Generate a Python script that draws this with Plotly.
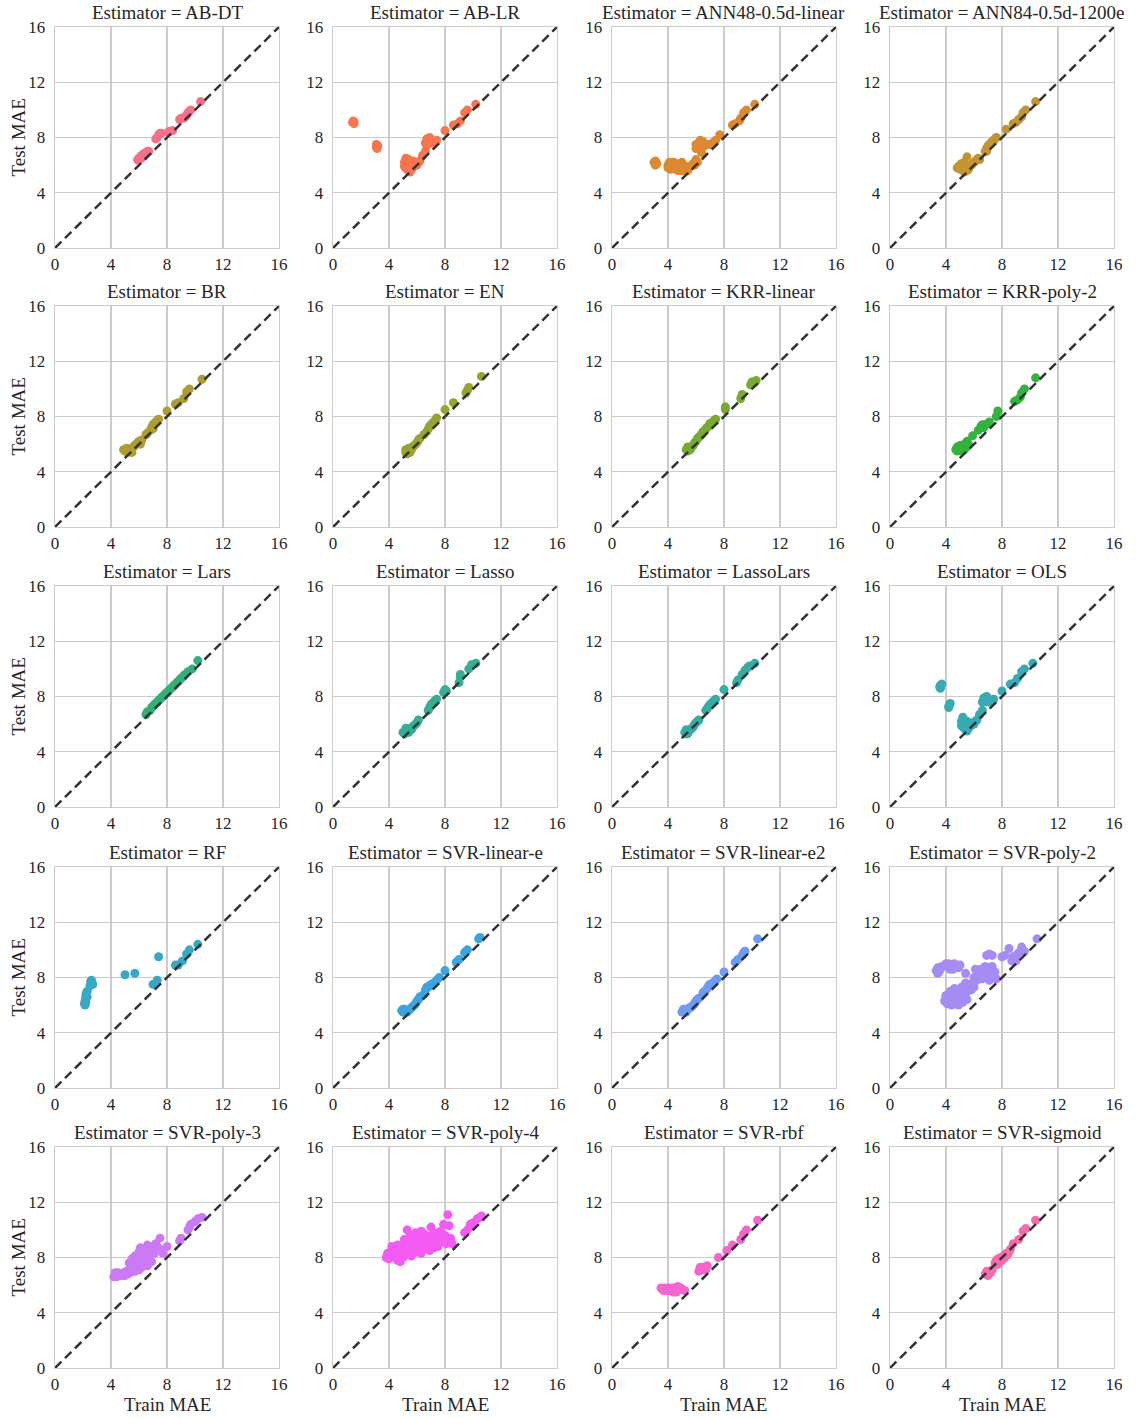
import math
import plotly.graph_objects as go

# ---------------- data: (Train MAE, Test MAE) per estimator ----------------
ESTIMATORS = ["AB-DT", "AB-LR", "ANN48-0.5d-linear", "ANN84-0.5d-1200e",
              "BR", "EN", "KRR-linear", "KRR-poly-2",
              "Lars", "Lasso", "LassoLars", "OLS",
              "RF", "SVR-linear-e", "SVR-linear-e2", "SVR-poly-2",
              "SVR-poly-3", "SVR-poly-4", "SVR-rbf", "SVR-sigmoid"]

AB_DT = [(5.9,6.4),(6.0,6.5),(6.1,6.6),(6.2,6.7),(6.3,6.8),(6.4,6.85),(6.5,6.9),(6.6,7.0),(6.7,7.0),
         (5.95,6.35),(6.15,6.5),(6.35,6.65),(6.55,6.85),(7.2,7.9),(7.3,8.0),(7.4,8.2),(7.5,8.3),(7.6,8.3),
         (8.1,8.4),(8.2,8.45),(8.4,8.5),(8.9,9.3),(9.0,9.4),(9.2,9.4),(9.3,9.5),(9.4,9.6),(9.5,9.8),
         (9.6,9.9),(9.7,10.0),(10.4,10.6)]
AB_LR = [(1.4,9.1),(1.5,9.0),(1.45,9.2),(1.5,9.15),(3.1,7.3),(3.2,7.4),(3.1,7.5),(3.15,7.2),
         (5.1,5.9),(5.1,6.2),(5.2,6.5),(5.2,6.0),(5.3,5.7),(5.3,6.3),(5.4,5.6),(5.4,6.0),(5.5,5.5),
         (5.5,6.2),(5.6,5.7),(5.6,6.0),(5.7,5.8),(5.8,6.0),(5.9,6.1),(6.0,6.0),(6.1,6.2),(6.2,6.3),
         (5.2,5.8),(5.35,6.45),(5.45,5.8),(5.7,6.3),(6.4,6.7),(6.6,7.0),(6.6,7.6),(6.7,7.9),(6.8,7.7),
         (6.9,8.0),(7.0,7.6),(6.7,7.4),(7.2,7.6),(7.4,7.8),(8.0,8.5),(8.6,8.9),(8.9,9.0),(9.1,9.2),
         (9.4,9.8),(9.6,10.0),(10.2,10.4)]
ANN48 = [(3.0,6.2),(3.1,6.0),(3.2,6.1),(3.1,6.3),(4.0,6.0),(4.0,5.8),(4.1,6.2),(4.2,5.7),(4.3,6.0),
         (4.4,6.2),(4.5,5.8),(4.6,6.1),(4.7,5.6),(4.8,6.0),(4.9,5.7),(5.0,6.1),(5.1,5.8),(5.2,5.6),
         (5.3,5.9),(5.4,5.6),(5.5,5.8),(5.6,5.9),(5.7,6.0),(5.8,6.1),(4.2,5.9),(4.6,5.7),(5.0,5.6),
         (5.0,6.2),(4.5,6.1),(6.0,6.4),(5.9,6.0),(6.1,6.2),(6.0,7.2),(6.0,7.5),(6.1,7.3),(6.2,7.6),
         (6.3,7.8),(6.4,7.5),(6.5,7.7),(6.3,7.1),(6.4,6.9),(6.6,7.4),(6.8,7.5),(7.0,7.5),(7.2,7.6),
         (7.4,7.8),(7.7,8.2),(8.6,8.9),(8.8,9.0),(9.1,9.2),(9.2,9.4),(9.4,9.8),(9.6,10.0),(10.2,10.4)]
ANN84 = [(4.8,5.8),(4.9,5.9),(5.0,5.7),(5.0,6.0),(5.1,6.1),(5.2,5.9),(5.3,6.2),(5.4,5.8),(5.5,5.6),
         (5.6,5.7),(5.5,6.6),(5.7,5.9),(5.8,6.0),(5.9,6.1),(6.0,6.2),(6.1,6.3),(6.2,6.4),(6.3,6.5),
         (6.4,6.4),(5.3,5.5),(6.8,7.0),(6.9,7.2),(7.0,7.4),(7.1,7.5),(7.2,7.6),(7.3,7.7),(7.4,7.8),
         (7.5,7.9),(7.6,8.0),(6.9,7.0),(8.3,8.6),(8.8,9.0),(9.0,9.1),(9.2,9.3),(9.4,9.5),(9.5,9.8),
         (9.7,10.0),(10.4,10.6)]
BR = [(4.9,5.6),(5.0,5.5),(5.1,5.7),(5.2,5.4),(5.3,5.6),(5.4,5.5),(5.5,5.7),(5.6,5.8),(5.7,5.9),
      (5.8,6.0),(5.9,6.1),(6.0,6.2),(6.1,6.0),(6.2,6.3),(5.5,5.4),(6.5,6.7),(6.6,6.8),(6.8,7.0),
      (6.9,7.2),(7.0,7.4),(7.1,7.5),(7.2,7.6),(7.3,7.7),(7.4,7.8),(7.0,7.1),(8.0,8.4),(8.6,8.9),
      (8.8,9.0),(9.2,9.3),(9.4,9.8),(9.6,10.0),(10.5,10.7)]
EN = [(5.2,5.4),(5.2,5.6),(5.3,5.3),(5.4,5.5),(5.5,5.4),(5.5,5.7),(5.6,5.6),(5.7,5.8),(5.8,5.9),
      (5.9,6.0),(6.0,6.1),(6.1,6.3),(6.2,6.4),(5.4,5.7),(6.5,6.7),(6.7,6.9),(6.8,7.1),(6.9,7.3),
      (7.0,7.4),(7.1,7.5),(7.2,7.6),(7.3,7.7),(7.4,7.9),(8.0,8.5),(8.6,9.0),(9.5,9.7),(9.6,9.9),
      (9.7,10.1),(10.6,10.9)]
KRR_LINEAR = [(5.3,5.6),(5.4,5.5),(5.4,5.8),(5.5,5.7),(5.6,5.6),(5.7,5.8),(5.8,5.9),(5.9,6.1),
              (6.0,6.2),(6.1,6.4),(6.2,6.5),(6.3,6.6),(6.4,6.7),(6.5,6.9),(6.7,7.1),(6.8,7.2),
              (6.9,7.3),(7.0,7.5),(7.1,7.5),(7.2,7.6),(7.3,7.7),(7.4,7.8),(8.1,8.5),(8.1,8.7),
              (9.2,9.3),(9.3,9.6),(9.9,10.3),(10.0,10.5),(10.2,10.5),(10.3,10.6)]
KRR_POLY2 = [(4.7,5.6),(4.8,5.5),(4.8,5.8),(4.9,5.6),(5.0,5.7),(5.1,5.5),(5.2,5.8),(5.3,5.6),
             (5.3,6.0),(5.4,5.9),(5.5,6.2),(5.5,5.8),(5.6,6.0),(5.0,5.9),(5.9,6.6),(6.3,7.0),
             (6.5,7.3),(6.6,7.4),(6.8,7.4),(7.0,7.5),(7.1,7.6),(6.7,7.2),(7.6,8.0),(7.7,8.4),
             (8.9,9.1),(9.1,9.2),(9.3,9.4),(9.4,9.7),(9.6,10.0),(10.4,10.8)]
LARS = [(6.5,6.7),(6.6,6.9),(6.8,7.0),(6.9,7.2),(7.0,7.3),(7.1,7.4),(7.2,7.5),(7.3,7.6),(7.4,7.7),
        (7.5,7.8),(7.6,7.9),(7.7,8.0),(7.8,8.1),(7.9,8.2),(8.0,8.3),(8.1,8.4),(8.2,8.5),(8.3,8.6),
        (8.4,8.7),(8.5,8.8),(8.6,8.9),(8.7,9.0),(8.8,9.1),(8.9,9.2),(9.0,9.3),(9.1,9.4),(9.2,9.5),
        (9.3,9.6),(9.5,9.8),(9.8,10.0),(10.2,10.6)]
LASSO = [(5.0,5.4),(5.1,5.3),(5.2,5.5),(5.3,5.6),(5.4,5.4),(5.5,5.7),(5.6,5.6),(5.7,5.8),(5.8,5.9),
         (5.9,6.0),(6.0,6.1),(6.1,6.3),(5.2,5.7),(6.8,7.0),(6.9,7.2),(7.0,7.4),(7.1,7.5),(7.2,7.6),
         (7.3,7.7),(7.4,7.8),(7.9,8.3),(8.0,8.5),(8.1,8.4),(9.0,9.0),(9.1,9.4),(9.1,9.6),(9.7,10.0),
         (9.9,10.3),(10.2,10.4)]
LASSOLARS = [(5.2,5.4),(5.3,5.6),(5.4,5.3),(5.5,5.5),(5.6,5.6),(5.7,5.7),(5.8,5.8),(5.9,6.0),
             (6.0,6.1),(6.1,6.2),(6.2,6.3),(5.3,5.3),(6.7,7.0),(6.8,7.1),(6.9,7.3),(7.0,7.4),
             (7.1,7.5),(7.2,7.6),(7.3,7.7),(7.4,7.8),(8.0,8.5),(8.9,9.0),(9.0,9.2),(9.3,9.6),
             (9.5,9.9),(9.7,10.1),(9.8,10.2),(10.2,10.4)]
OLS = [(3.6,8.8),(3.6,8.6),(3.7,8.9),(3.55,8.7),(4.2,7.3),(4.3,7.5),(4.2,7.2),(4.25,7.4),
       (5.1,5.9),(5.1,6.2),(5.2,6.5),(5.2,6.0),(5.3,5.7),(5.3,6.3),(5.4,5.6),(5.4,6.0),(5.5,5.5),
       (5.5,6.2),(5.6,5.7),(5.6,6.0),(5.7,5.8),(5.8,6.0),(5.9,6.1),(6.0,6.0),(6.1,6.2),(6.2,6.3),
       (5.2,5.8),(5.45,5.8),(6.4,6.7),(6.6,7.0),(6.6,7.6),(6.7,7.9),(6.8,7.7),(6.9,8.0),(7.0,7.6),
       (7.2,7.6),(7.4,7.8),(8.0,8.4),(8.6,8.9),(8.9,9.0),(9.1,9.3),(9.4,9.8),(9.6,10.0),(10.2,10.4)]
RF = [(2.1,6.1),(2.15,6.3),(2.2,6.5),(2.2,6.7),(2.25,6.9),(2.3,7.0),(2.2,6.2),(2.3,6.6),(2.15,6.0),
      (2.5,7.4),(2.6,7.6),(2.6,7.8),(2.7,7.5),(2.55,7.7),(5.0,8.2),(5.7,8.3),(7.0,7.5),(7.3,7.8),
      (7.4,9.5),(8.6,8.9),(8.8,8.9),(9.1,9.2),(9.4,9.7),(9.6,10.0),(10.2,10.4)]
SVR_LIN_E = [(4.9,5.6),(5.0,5.5),(5.1,5.7),(5.2,5.6),(5.3,5.5),(5.4,5.6),(5.5,5.7),(5.6,5.8),
             (5.7,5.9),(5.8,6.0),(5.9,6.1),(6.0,6.3),(6.1,6.4),(6.2,6.6),(5.0,5.7),(6.5,6.8),
             (6.6,7.1),(6.7,7.3),(6.8,7.3),(6.9,7.4),(7.0,7.5),(7.1,7.5),(7.2,7.6),(7.4,7.8),
             (7.6,8.0),(8.0,8.5),(8.8,9.1),(9.0,9.3),(9.4,9.8),(9.5,9.9),(9.6,10.0),(10.4,10.8),
             (10.5,10.9)]
SVR_LIN_E2 = [(5.0,5.5),(5.1,5.7),(5.2,5.6),(5.3,5.5),(5.4,5.7),(5.5,5.8),(5.6,5.8),(5.7,5.9),
              (5.8,6.0),(5.9,6.1),(6.0,6.3),(6.1,6.4),(6.2,6.5),(6.5,6.9),(6.6,7.0),(6.8,7.2),
              (6.9,7.4),(7.0,7.5),(7.1,7.5),(7.2,7.6),(7.4,7.8),(7.5,7.9),(8.0,8.4),(8.8,9.1),
              (9.0,9.3),(9.3,9.6),(9.4,9.8),(9.5,9.9),(10.4,10.8)]
SVR_POLY2 = [(3.3,8.5),(3.4,8.7),(3.5,8.4),(3.6,8.6),(3.4,8.3),(3.7,8.8),
             (4.0,9.0),(4.1,8.8),(4.2,9.0),(4.3,8.6),(4.4,8.9),(4.5,8.6),(4.6,9.0),(4.8,8.8),
             (5.0,8.9),(4.9,8.7),
             (3.9,6.3),(4.0,6.5),(4.0,6.7),(4.1,6.1),(4.2,6.4),(4.2,6.8),(4.3,6.2),(4.3,7.0),
             (4.4,6.5),(4.4,6.0),(4.5,6.3),(4.5,6.8),(4.6,6.6),(4.6,7.2),(4.7,6.1),(4.7,6.9),
             (4.8,6.4),(4.8,7.0),(4.9,6.0),(4.9,6.7),(5.0,6.3),(5.0,7.1),(5.1,6.6),(5.1,7.3),
             (5.2,6.2),(5.2,6.9),(5.3,6.5),(5.3,7.4),(5.4,6.8),(5.4,7.6),(5.5,7.0),(5.5,6.4),
             (5.6,7.2),(5.7,7.5),(5.8,7.1),(5.9,7.6),(6.0,7.3),
             (5.4,8.3),(6.0,8.0),(6.1,8.6),(6.2,7.8),(6.3,8.3),(6.4,8.0),(6.5,8.6),(6.6,7.9),
             (6.7,8.4),(6.8,8.8),(6.9,8.1),(7.0,8.6),(7.1,7.8),(7.2,8.3),(7.3,8.8),(7.5,8.4),
             (7.6,7.9),(7.4,8.0),(6.9,9.6),(7.1,9.7),(7.3,9.6),(8.0,9.5),(8.2,9.6),(8.5,10.1),
             (8.7,9.2),(8.8,9.5),(9.0,9.6),(9.2,9.8),(9.4,10.2),(9.6,9.9),(9.0,9.2),(10.5,10.8)]
SVR_POLY3 = [(4.2,6.6),(4.3,6.9),(4.4,6.6),(4.5,6.9),(4.6,6.7),(4.7,6.8),(4.8,6.7),(4.9,6.9),
             (5.0,6.7),(5.1,7.0),(5.2,6.8),(5.3,7.1),(5.4,6.9),(5.5,7.3),(5.3,7.6),(5.5,7.9),
             (5.6,7.5),(5.7,8.1),(5.8,7.3),(5.9,7.8),(6.0,8.4),(6.1,8.7),(6.2,7.6),(6.3,8.0),
             (6.4,8.5),(6.5,7.8),(6.6,8.9),(6.7,8.2),(6.8,8.6),(6.9,7.7),(7.0,8.8),(7.1,8.3),
             (7.2,9.0),(7.4,8.7),(7.5,9.4),(7.7,8.3),(8.0,8.8),(6.0,7.1),(6.2,7.3),(6.6,7.4),
             (5.7,7.0),(8.9,9.2),(9.0,9.4),(9.5,10.0),(9.6,10.2),(9.7,10.4),(10.0,10.6),
             (10.2,10.8),(10.5,10.9)]
SVR_POLY4 = [(3.8,8.0),(3.9,8.3),(4.0,7.9),(4.1,8.4),(4.2,8.8),(4.3,8.1),(4.4,8.6),(4.5,8.2),
             (4.6,7.8),(4.7,8.5),(4.8,7.7),(4.9,8.3),(5.0,8.9),(5.0,8.0),(5.1,9.3),(5.2,8.6),
             (5.3,10.0),(5.3,8.2),(5.4,9.0),(5.5,8.5),(5.5,9.6),(5.6,8.1),(5.7,9.2),(5.8,8.7),
             (5.9,9.8),(6.0,8.4),(6.0,9.4),(6.1,8.9),(6.2,9.6),(6.3,8.3),(6.4,9.1),(6.5,9.7),
             (6.5,8.6),(6.6,9.3),(6.7,8.8),(6.8,9.5),(6.9,8.5),(7.0,10.2),(7.0,9.0),(7.1,9.3),
             (7.2,8.7),(7.3,9.8),(7.4,9.1),(7.5,8.8),(7.6,9.5),(7.7,9.9),(7.8,9.2),(7.9,10.4),
             (8.0,9.6),(8.1,9.0),(8.2,11.1),(8.3,10.3),(8.4,9.4),(8.5,9.0),(5.8,9.0),(6.3,9.9),
             (4.6,8.9),(7.0,9.6),(9.4,9.8),(9.6,10.0),(9.8,10.4),(10.0,10.5),(10.3,10.8),
             (10.5,10.9),(10.6,11.0),(9.9,10.3)]
SVR_RBF = [(3.5,5.8),(3.6,5.7),(3.7,5.6),(3.8,5.8),(3.9,5.7),(4.0,5.6),(4.1,5.8),(4.2,5.7),
           (4.3,5.6),(4.4,5.8),(4.5,5.7),(4.6,5.5),(4.7,5.9),(4.8,5.7),(4.9,5.8),(5.0,5.7),
           (5.2,5.6),(4.4,5.5),(6.2,7.0),(6.3,7.2),(6.4,7.1),(6.5,7.3),(6.6,7.2),(6.7,7.1),
           (6.8,7.4),(6.3,7.3),(7.6,8.0),(8.2,8.5),(8.6,8.9),(9.2,9.3),(9.4,9.7),(9.6,10.0),
           (10.4,10.7)]
SVR_SIGMOID = [(6.8,6.8),(6.9,7.0),(7.0,6.7),(7.1,7.0),(7.2,6.9),(7.3,7.1),(7.5,7.6),(7.6,7.8),
               (7.7,7.9),(7.8,7.7),(7.9,8.0),(8.0,7.8),(8.1,8.1),(8.2,8.0),(8.3,8.3),(8.4,8.2),
               (8.5,8.4),(8.6,8.6),(7.7,7.5),(8.8,9.0),(9.2,9.3),(9.5,9.9),(9.7,10.1),(10.4,10.7)]

PANEL_DATA = [AB_DT, AB_LR, ANN48, ANN84, BR, EN, KRR_LINEAR, KRR_POLY2, LARS, LASSO,
              LASSOLARS, OLS, RF, SVR_LIN_E, SVR_LIN_E2, SVR_POLY2, SVR_POLY3, SVR_POLY4,
              SVR_RBF, SVR_SIGMOID]

TICKS = [0, 4, 8, 12, 16]
DIAG = [0, 16]

# ---------------- seaborn husl palette ----------------
_M = [[3.240454162114103, -1.537138512797715, -0.49853140955601],
      [-0.969266030505187, 1.876010845446694, 0.041556017530350],
      [0.055643430959115, -0.204025913516754, 1.057225188223179]]
_REF_U = 0.19783000664283
_REF_V = 0.46831999493879
_KAPPA = 903.2962962
_EPS = 0.0088564516


def _max_chroma(L, H):
    hrad = math.radians(H)
    sinH, cosH = math.sin(hrad), math.cos(hrad)
    sub1 = (L + 16) ** 3 / 1560896.0
    sub2 = sub1 if sub1 > _EPS else L / _KAPPA
    result = float("inf")
    for m1, m2, m3 in _M:
        top = (0.99915 * m1 + 1.05122 * m2 + 1.14460 * m3) * sub2
        rbottom = 0.86330 * m3 - 0.17266 * m2
        lbottom = 0.12949 * m3 - 0.38848 * m1
        bottom = (rbottom * sinH + lbottom * cosH) * sub2
        for t in (0.0, 1.0):
            C = L * (top - 1.05122 * t) / (bottom + 0.17266 * sinH * t)
            if 0.0 < C < result:
                result = C
    return result


def _from_linear(c):
    return 12.92 * c if c <= 0.0031308 else 1.055 * c ** (1 / 2.4) - 0.055


def husl_to_hex(h, s, l):
    C = _max_chroma(l, h) / 100.0 * s
    U = math.cos(math.radians(h)) * C
    V = math.sin(math.radians(h)) * C
    varY = ((l + 16) / 116.0) ** 3 if l > 8 else l / _KAPPA
    varU = U / (13 * l) + _REF_U
    varV = V / (13 * l) + _REF_V
    Y = varY
    X = -(9 * Y * varU) / ((varU - 4) * varV - varU * varV)
    Z = (9 * Y - 15 * varV * Y - varV * X) / (3 * varV)
    rgb = [_from_linear(r[0] * X + r[1] * Y + r[2] * Z) for r in _M]
    rgb = [min(1, max(0, v)) for v in rgb]
    return "#%02x%02x%02x" % tuple(int(round(v * 255)) for v in rgb)


def husl_palette(n, h=0.01, s=0.9, l=0.65):
    out = []
    for i in range(n):
        hue = ((i / n + h) % 1) * 359
        out.append(husl_to_hex(hue, s * 99, l * 99))
    return out


COLORS = husl_palette(len(ESTIMATORS))

# ---------------- layout geometry (page pixels; body margin removed) ----------------
W, H = 1136, 1419
COL_LEFT = [55, 333, 612, 890]
ROW_TOP = [27, 306, 586, 867, 1147]
PW, PH = 224, 221
FONT = "Liberation Serif"
TXT = "#262626"

fig = go.Figure()
layout = dict(template="none", width=W, height=H,
              margin=dict(l=0, r=0, t=0, b=0, pad=0, autoexpand=False),
              paper_bgcolor="white", plot_bgcolor="white", showlegend=False,
              font=dict(family=FONT, size=17, color=TXT))
annotations = []

for i, (name, pts) in enumerate(zip(ESTIMATORS, PANEL_DATA)):
    r, c = divmod(i, 4)
    k = "" if i == 0 else str(i + 1)
    x0 = COL_LEFT[c] / W
    x1 = (COL_LEFT[c] + PW) / W
    y1 = 1 - ROW_TOP[r] / H
    y0 = 1 - (ROW_TOP[r] + PH) / H
    ax = dict(range=[0, 16], tickvals=TICKS, showgrid=True, gridcolor="#cccccc", gridwidth=1.3,
              zeroline=False, showline=True, linecolor="#cccccc", linewidth=1.3, mirror=True,
              ticks="", automargin=False, tickfont=dict(family=FONT, size=17, color=TXT),
              fixedrange=True)
    layout["xaxis" + k] = dict(ax, domain=[x0, x1], anchor="y" + k, ticklabelstandoff=0)
    layout["yaxis" + k] = dict(ax, domain=[y0, y1], anchor="x" + k, ticklabelstandoff=5)

    xs = [p[0] for p in pts]
    ys = [p[1] for p in pts]
    fig.add_trace(go.Scatter(x=xs, y=ys, mode="markers", xaxis="x" + k, yaxis="y" + k,
                             marker=dict(size=9, color=COLORS[i], line=dict(width=0)),
                             hoverinfo="skip"))
    fig.add_trace(go.Scatter(x=DIAG, y=DIAG, mode="lines", xaxis="x" + k, yaxis="y" + k,
                             line=dict(color="#333333", width=2.5, dash="9px,5px"),
                             hoverinfo="skip"))

    annotations.append(dict(text="Estimator = " + name, x=(x0 + x1) / 2, y=y1,
                            xref="paper", yref="paper", xanchor="center", yanchor="bottom",
                            yshift=2, showarrow=False,
                            font=dict(family=FONT, size=19, color=TXT)))
    if c == 0:
        annotations.append(dict(text="Test MAE", x=18 / W, y=(y0 + y1) / 2,
                                xref="paper", yref="paper", xanchor="center", yanchor="middle",
                                textangle=-90, showarrow=False,
                                font=dict(family=FONT, size=19, color=TXT)))
    if r == 4:
        annotations.append(dict(text="Train MAE", x=(x0 + x1) / 2, y=1 - 1404 / H,
                                xref="paper", yref="paper", xanchor="center", yanchor="middle",
                                showarrow=False,
                                font=dict(family=FONT, size=19, color=TXT)))

layout["annotations"] = annotations
fig.update_layout(**layout)
fig.write_html("out.html",
               config={"displayModeBar": False, "staticPlot": True},
               post_script="document.body.style.margin='0';document.body.style.overflow='hidden';")
